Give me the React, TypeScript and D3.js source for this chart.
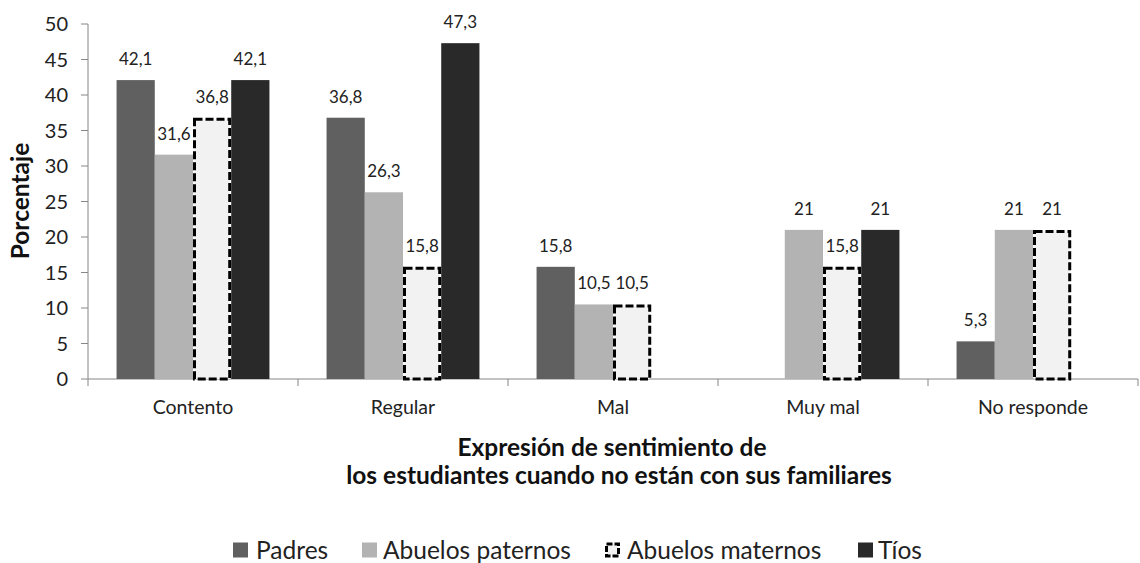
import React from "react";
import * as d3 from "d3";

const categories = ["Contento", "Regular", "Mal", "Muy mal", "No responde"];
const seriesNames = ["Padres", "Abuelos paternos", "Abuelos maternos", "Tíos"];
const padres: (number | null)[] = [42.1, 36.8, 15.8, null, 5.3];
const abuelosPaternos: (number | null)[] = [31.6, 26.3, 10.5, 21, 21];
const abuelosMaternos: (number | null)[] = [36.8, 15.8, 10.5, 15.8, 21];
const tios: (number | null)[] = [42.1, 47.3, null, 21, null];
const yTicks = [0, 5, 10, 15, 20, 25, 30, 35, 40, 45, 50];

const seriesValues = [padres, abuelosPaternos, abuelosMaternos, tios];
const colors = ["#606060", "#b3b3b3", "#f2f2f2", "#292929"];

const W = 1140;
const H = 563;
const left = 88;
const right = 1138;
const top = 24;
const bottom = 379;
const FONT = "Lato, 'Open Sans', sans-serif";

const fmt = (v: number) => String(v).replace(".", ",");

export default function App() {
  const x0 = d3.scaleBand<string>().domain(categories).range([left, right]).paddingInner(0).paddingOuter(0);
  const groupW = x0.bandwidth() * 0.728;
  const x1 = d3.scaleBand<string>().domain(seriesNames).range([0, groupW]).padding(0);
  const y = d3.scaleLinear().domain([0, 50]).range([bottom, top]);
  const offset = (x0.bandwidth() - groupW) / 2;

  const legendItems = [
    { name: "Padres", x: 233, tx: 256 },
    { name: "Abuelos paternos", x: 362, tx: 383 },
    { name: "Abuelos maternos", x: 605, tx: 627 },
    { name: "Tíos", x: 858, tx: 878 },
  ];
  const legendY = 550;

  return (
    <svg width={W} height={H} style={{ position: "absolute", left: 0, top: 0, fontFamily: FONT }}>
      <rect width={W} height={H} fill="#fff" />
      {/* Y axis */}
      <line x1={left} x2={left} y1={top} y2={bottom} stroke="#868686" strokeWidth={1} />
      {yTicks.map((t) => (
        <g key={t}>
          <line x1={left - 7} x2={left} y1={y(t)} y2={y(t)} stroke="#868686" />
          <text x={left - 20} y={y(t)} dy="0.35em" textAnchor="end" fontSize={20} fill="#222">
            {t}
          </text>
        </g>
      ))}
      {/* X axis */}
      <line x1={left} x2={right} y1={bottom} y2={bottom} stroke="#868686" />
      {categories.map((c, i) => (
        <line key={"t" + i} x1={x0(c)!} x2={x0(c)!} y1={bottom} y2={bottom + 7} stroke="#868686" />
      ))}
      <line x1={right} x2={right} y1={bottom} y2={bottom + 7} stroke="#868686" />
      {categories.map((c) => (
        <text key={"c" + c} x={x0(c)! + x0.bandwidth() / 2} y={407} dy="0.35em" textAnchor="middle" fontSize={19.5} fill="#222">
          {c}
        </text>
      ))}
      {/* Bars */}
      {categories.map((c, ci) =>
        seriesNames.map((s, si) => {
          const v = seriesValues[si][ci];
          if (v == null) return null;
          const bx = x0(c)! + offset + x1(s)!;
          const bw = x1.bandwidth();
          const isDashed = si === 2;
          return (
            <g key={c + s}>
              {isDashed ? (
                <rect
                  x={bx + 1.5}
                  y={y(v) + 1.5}
                  width={bw - 3}
                  height={y(0) - y(v) - 1.5}
                  fill={colors[si]}
                  stroke="#000"
                  strokeWidth={3}
                  strokeDasharray="8,3"
                />
              ) : (
                <rect x={bx} y={y(v)} width={bw} height={y(0) - y(v)} fill={colors[si]} />
              )}
              <text x={bx + bw / 2} y={y(v) - 21} dy="0.35em" textAnchor="middle" fontSize={17} fill="#222">
                {fmt(v)}
              </text>
            </g>
          );
        })
      )}
      {/* Axis titles */}
      <text
        transform={`translate(20,201) rotate(-90)`}
        textAnchor="middle"
        dy="0.35em"
        fontSize={24.5}
        fontWeight="bold"
        fill="#111"
      >
        Porcentaje
      </text>
      <text x={612} y={447} dy="0.35em" textAnchor="middle" fontSize={24.5} fontWeight="bold" fill="#111">
        Expresión de sentimiento de
      </text>
      <text x={619} y={475} dy="0.35em" textAnchor="middle" fontSize={24.5} fontWeight="bold" fill="#111">
        los estudiantes cuando no están con sus familiares
      </text>
      {/* Legend */}
      {legendItems.map((it, i) => (
        <g key={it.name}>
          {i === 2 ? (
            <rect
              x={it.x + 1.5}
              y={legendY - 6}
              width={12}
              height={12}
              fill={colors[i]}
              stroke="#000"
              strokeWidth={3}
              strokeDasharray="6,2"
            />
          ) : (
            <rect x={it.x} y={legendY - 7.5} width={15} height={15} fill={colors[i]} />
          )}
          <text x={it.tx} y={legendY} dy="0.35em" fontSize={24.5} fill="#222">
            {it.name}
          </text>
        </g>
      ))}
    </svg>
  );
}
